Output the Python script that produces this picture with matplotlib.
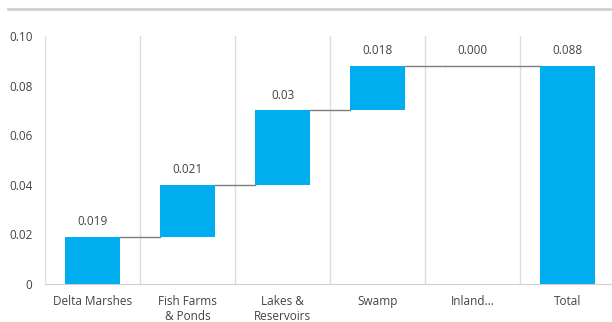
"""Waterfall chart: contribution by wetland type, with running total."""
import matplotlib

matplotlib.use("Agg")
import matplotlib.pyplot as plt
from matplotlib.lines import Line2D

CATEGORIES = ["Delta Marshes", "Fish Farms\n& Ponds", "Lakes &\nReservoirs",
              "Swamp", "Inland...", "Total"]
STEPS = [0.019, 0.021, 0.030, 0.018, 0.000]
LABELS = ["0.019", "0.021", "0.03", "0.018", "0.000", "0.088"]
TOTAL = 0.088

BLUE = "#00aeef"
TEXT = "#444444"
HALF = 0.285  # half bar width

plt.rcParams["font.family"] = ["Open Sans", "DejaVu Sans"]

# running base / height for each bar
bases, heights = [], []
run = 0.0
for s in STEPS:
    bases.append(run)
    heights.append(s)
    run += s
bases.append(0.0)
heights.append(TOTAL)

fig = plt.figure(figsize=(6.12, 3.22), dpi=100)
ax = fig.add_axes([45 / 612, 38 / 322, 570 / 612, 248 / 322])
x = range(len(CATEGORIES))

ax.bar(x, heights, bottom=bases, width=2 * HALF, color=BLUE, zorder=3)

# connectors between consecutive bars (zero-height bars are bridged)
tops = [b + h for b, h in zip(bases, heights)]
for i in range(len(CATEGORIES) - 1):
    x0 = i - HALF if heights[i] == 0 else i + HALF
    ax.plot([x0, i + 1 - HALF], [tops[i], tops[i]],
            color="#7f7f7f", lw=1, zorder=2)

for i, lab in enumerate(LABELS):
    ax.text(i, tops[i] + 0.0035, lab, ha="center", va="bottom",
            fontsize=8.5, color=TEXT)

# category separators
for b in [i - 0.5 for i in range(len(CATEGORIES) + 1)]:
    ax.axvline(b, color="#dddddd", lw=1, zorder=1)

ax.set_xlim(-0.5, len(CATEGORIES) - 0.5)
ax.set_ylim(0, 0.10)
ax.set_yticks([0, 0.02, 0.04, 0.06, 0.08, 0.10])
ax.set_yticklabels(["0", "0.02", "0.04", "0.06", "0.08", "0.10"])
ax.set_xticks(list(x))
ax.set_xticklabels(CATEGORIES)
ax.tick_params(length=0, labelsize=8.5, labelcolor=TEXT)
ax.tick_params(axis="y", pad=9)
ax.tick_params(axis="x", pad=8)
for sp in ("top", "right", "left"):
    ax.spines[sp].set_visible(False)
ax.spines["bottom"].set_color("#d0d0d0")

fig.add_artist(Line2D([8 / 612, 1], [313 / 322, 313 / 322],
                      color="#d0d0d0", lw=2, transform=fig.transFigure))

fig.savefig("out.png", dpi=100)
